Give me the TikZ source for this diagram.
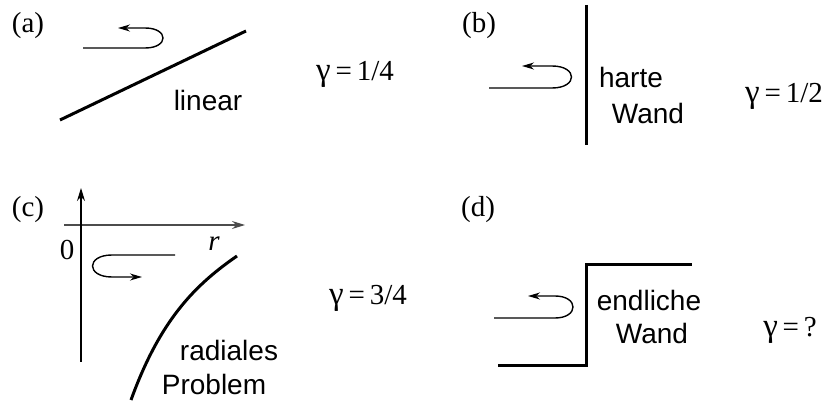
\documentclass[tikz,border=0pt]{standalone}
\usepackage{fontspec}
\setmainfont{Liberation Serif}
\setsansfont{Liberation Sans}
\usetikzlibrary{arrows.meta}

\newcommand{\gam}{{\fontsize{33}{30}\selectfont γ}}

\tikzset{
  wall/.style={line width=3pt},
  bahn/.style={line width=1.4pt, -{Stealth[length=12pt,width=7pt]}},
  achse/.style={line width=1.2pt, -{Stealth[length=13pt,width=8pt]}},
  marke/.style={font=\fontsize{29}{30}\selectfont, inner sep=0pt},
  wort/.style={font=\sffamily\fontsize{28}{30}\selectfont, inner sep=0pt},
}

\begin{document}
\begin{tikzpicture}[x=1pt,y=-1pt]
  \useasboundingbox (0,0) rectangle (825,403);

  % (a) linearer Verlauf
  \node[marke] (Ma) at (28,26) {(a)};
  \coordinate (A0) at (60,120);
  \coordinate (A1) at (246,31);
  \draw[wall] (A0) -- (A1);
  \coordinate (Sa) at (83,48);
  \coordinate (Ea) at (118,28);
  \draw[bahn] (Sa) -- (145,48) .. controls (169,48) and (169,28) .. (145,28) -- (Ea);
  \node[wort] (La) at (208,100) {linear};
  \node[marke] (Ga) at (355,74) {\gam\,=\,1/4};

  % (b) harte Wand
  \node[marke] (Mb) at (479,26) {(b)};
  \coordinate (B0) at (586,5);
  \coordinate (B1) at (586,145);
  \draw[wall] (B0) -- (B1);
  \coordinate (Sb) at (489,88);
  \coordinate (Eb) at (522,66);
  \draw[bahn] (Sb) -- (552,88) .. controls (578,88) and (578,66) .. (552,66) -- (Eb);
  \node[wort] (Lb1) at (631,77) {harte};
  \node[wort] (Lb2) at (648,113) {Wand};
  \node[marke] (Gb) at (784,96) {\gam\,=\,1/2};

  % (c) radiales Problem
  \node[marke] (Mc) at (28,210) {(c)};
  \coordinate (O) at (81,225);
  \coordinate (Xa) at (64,225);
  \coordinate (Xe) at (245,225);
  \coordinate (Ya) at (81,362);
  \coordinate (Ye) at (81,188);
  \draw[achse, black!70] (Xa) -- (Xe);
  \draw[achse] (Ya) -- (Ye);
  \node[marke] (Null) at (67,250) {0};
  \node[marke, font=\itshape\fontsize{29}{30}\selectfont] (R) at (214,244) {r};
  \coordinate (Sc) at (175,255);
  \coordinate (Ec) at (142,277);
  \draw[bahn] (Sc) -- (112,255) .. controls (86,255) and (86,277) .. (112,277) -- (Ec);
  \coordinate (C0) at (131,400);
  \coordinate (C1) at (237,256);
  \draw[wall] (C0) .. controls (160,320) and (195,285) .. (C1);
  \node[wort] (Lc1) at (229,350) {radiales};
  \node[wort] (Lc2) at (214,384) {Problem};
  \node[marke] (Gc) at (368,298) {\gam\,=\,3/4};

  % (d) endliche Wand
  \node[marke] (Md) at (478,210) {(d)};
  \coordinate (D0) at (498,366);
  \coordinate (D1) at (586,366);
  \coordinate (D2) at (586,265);
  \coordinate (D3) at (692,265);
  \draw[wall] (D0) -- (D1) -- (D2) -- (D3);
  \coordinate (Sd) at (494,318);
  \coordinate (Ed) at (528,296);
  \draw[bahn] (Sd) -- (555,318) .. controls (579,318) and (579,296) .. (555,296) -- (Ed);
  \node[wort] (Ld1) at (649,300) {endliche};
  \node[wort] (Ld2) at (652,333) {Wand};
  \node[marke] (Gd) at (790,330) {\gam\,=\,?};
\end{tikzpicture}
\end{document}
